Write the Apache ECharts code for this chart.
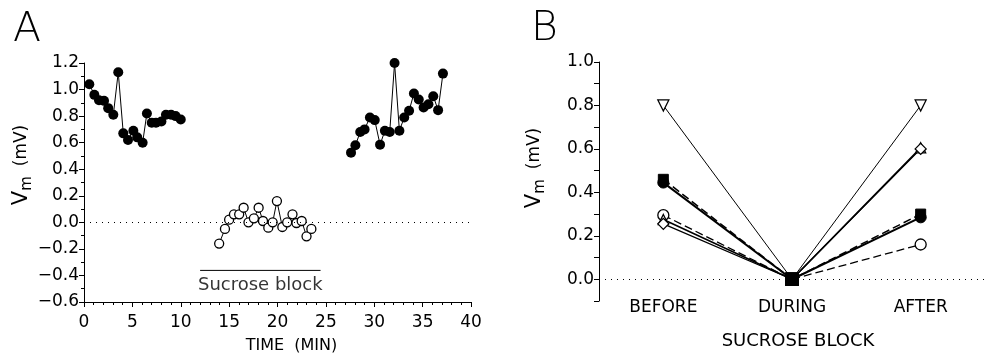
<!DOCTYPE html>
<html><head><meta charset="utf-8">
<script src="https://cdn.jsdelivr.net/npm/echarts@6/dist/echarts.min.js"></script>
<style>html,body{margin:0;padding:0;background:#fff}#c{width:985px;height:353px}</style>
</head><body><div id="c"></div>
<script>
// Panel A data
const preTime = [0.55,1.07,1.55,2.07,2.5,3.03,3.54,4.06,4.55,5.1,5.5,6.06,6.5,7.0,7.44,8.0,8.47,9.0,9.47,10.0];
const preVm   = [1.04,0.96,0.92,0.915,0.86,0.81,1.13,0.67,0.62,0.69,0.64,0.60,0.82,0.75,0.75,0.76,0.81,0.81,0.80,0.775];
const blockTime = [13.97,14.57,15.0,15.5,16.04,16.5,17.0,17.56,18.05,18.5,19.05,19.5,19.94,20.5,21.0,21.55,21.96,22.5,23.0,23.5];
const blockVm   = [-0.16,-0.05,0.02,0.06,0.06,0.11,0.0,0.03,0.11,0.01,-0.04,0.0,0.16,-0.035,0.0,0.06,-0.005,0.01,-0.105,-0.05];
const postTime = [27.6,28.05,28.55,29.0,29.55,30.05,30.6,31.1,31.6,32.1,32.6,33.1,33.6,34.1,34.6,35.1,35.6,36.1,36.6,37.1];
const postVm   = [0.525,0.58,0.68,0.70,0.79,0.77,0.585,0.69,0.68,1.20,0.69,0.79,0.84,0.97,0.925,0.865,0.89,0.95,0.845,1.12];
const sucroseBar = [12.0, 24.45];
const sucroseBarVm = -0.362;
const sucroseLabel = 'Sucrose block';
// Panel B data
const phases = ['BEFORE','DURING','AFTER'];
const cellTriDown = [0.80, 0.0, 0.80];
const cellSquare  = [0.46, 0.0, 0.30];
const cellFilled  = [0.445, 0.0, 0.285];
const cellOpen    = [0.295, 0.0, 0.16];
const cellTriUp   = [0.275, 0.0, 0.605];
const cellDiamond = [0.255, 0.0, 0.60];

const FF = 'DejaVu Sans';
const chart = echarts.init(document.getElementById('c'), null, {renderer:'canvas'});
const zip = (a,b) => a.map((x,i)=>[x,b[i]]);
const duringItem = v => ({value:v, symbol:'rect', symbolSize:12, symbolRotate:0, itemStyle:{color:'#000', borderColor:'#000'}});
function bSeries(vals, symbol, opts){
  return Object.assign({
    type:'line', xAxisIndex:1, yAxisIndex:1, symbol:symbol, symbolSize:10,
    data: vals.map((v,i)=> i===1 ? duringItem(v) : v),
    lineStyle:{color:'#000', width:1},
    itemStyle:{color:'#fff', borderColor:'#000', borderWidth:1.3},
    z: 3, animation:false
  }, opts||{});
}
const dotted0 = {silent:true, symbol:'none', label:{show:false},
  lineStyle:{color:'#000', type:[1,5], width:1}, data:[{yAxis:0}]};
const option = {
  backgroundColor:'#fff',
  animation:false,
  grid:[
    {left:84, right:514, top:63, bottom:51, outerBoundsMode:'none', containLabel:false},
    {left:599, right:0, top:62, bottom:52, outerBoundsMode:'none', containLabel:false}
  ],
  xAxis:[
    {type:'value', gridIndex:0, min:0, max:40, interval:5,
      axisLine:{show:true, onZero:false, lineStyle:{color:'#000', width:1}},
      axisTick:{show:true, length:5, lineStyle:{color:'#000'}},
      minorTick:{show:true, splitNumber:5, length:3, lineStyle:{color:'#000'}},
      splitLine:{show:false},
      axisLabel:{color:'#000', fontFamily:FF, fontSize:17, margin:12},
      name:'TIME  (MIN)', nameLocation:'middle', nameGap:36,
      nameTextStyle:{color:'#000', fontFamily:FF, fontSize:16, padding:[0,0,0,28]}},
    {type:'category', gridIndex:1, data:phases, boundaryGap:true,
      axisLine:{show:false}, axisTick:{show:false}, splitLine:{show:false},
      axisLabel:{color:'#000', fontFamily:FF, fontSize:17, margin:-2},
      name:'SUCROSE BLOCK', nameLocation:'middle', nameGap:31,
      nameTextStyle:{color:'#000', fontFamily:FF, fontSize:18, padding:[0,0,0,12]}}
  ],
  yAxis:[
    {type:'value', gridIndex:0, min:-0.6, max:1.2, interval:0.2,
      axisLine:{show:true, onZero:false, lineStyle:{color:'#000', width:1}},
      axisTick:{show:true, length:5, lineStyle:{color:'#000'}},
      minorTick:{show:true, splitNumber:2, length:3, lineStyle:{color:'#000'}},
      splitLine:{show:false},
      axisLabel:{color:'#000', fontFamily:FF, fontSize:17, margin:5, formatter: v => (v<0?'\u2212':'')+Math.abs(v).toFixed(1)}},
    {type:'value', gridIndex:1, min:-0.1, max:1.0, interval:0.1,
      axisLine:{show:true, onZero:false, lineStyle:{color:'#000', width:1}},
      axisTick:{show:true, length:5, lineStyle:{color:'#000'}},
      splitLine:{show:false},
      axisLabel:{color:'#000', fontFamily:FF, fontSize:17, margin:5,
        formatter: v => (Math.round(v*10)%2===0 ? Math.abs(v).toFixed(1) : '')}}
  ],
  graphic:[
    {type:'text', left:13, top:10, style:{text:'A', fontFamily:FF, fontSize:41, fontWeight:200, fill:'#000'}},
    {type:'text', left:531, top:9, style:{text:'B', fontFamily:FF, fontSize:41, fontWeight:200, fill:'#000'}},
    {type:'text', x:22, y:165, rotation:Math.PI/2,
      style:{text:'{v|V}{m|m}   {p|(mV)}', align:'center', verticalAlign:'middle', fill:'#000',
        rich:{v:{fontFamily:FF, fontSize:21, verticalAlign:'middle'}, m:{fontFamily:FF, fontSize:15, verticalAlign:'bottom', padding:[10,0,0,0]}, p:{fontFamily:FF, fontSize:17}}}},
    {type:'text', x:535, y:168, rotation:Math.PI/2,
      style:{text:'{v|V}{m|m}   {p|(mV)}', align:'center', verticalAlign:'middle', fill:'#000',
        rich:{v:{fontFamily:FF, fontSize:21, verticalAlign:'middle'}, m:{fontFamily:FF, fontSize:15, verticalAlign:'bottom', padding:[10,0,0,0]}, p:{fontFamily:FF, fontSize:17}}}}
  ],
  series:[
    {type:'line', xAxisIndex:0, yAxisIndex:0, data:zip(preTime, preVm), symbol:'circle', symbolSize:10,
      lineStyle:{color:'#000', width:1}, itemStyle:{color:'#000'}, z:3, markLine:dotted0},
    {type:'line', xAxisIndex:0, yAxisIndex:0, data:zip(blockTime, blockVm), symbol:'circle', symbolSize:9,
      lineStyle:{color:'#000', width:1}, itemStyle:{color:'#fff', borderColor:'#000', borderWidth:1.3}, z:3},
    {type:'line', xAxisIndex:0, yAxisIndex:0, data:zip(postTime, postVm), symbol:'circle', symbolSize:10,
      lineStyle:{color:'#000', width:1}, itemStyle:{color:'#000'}, z:3},
    {type:'line', xAxisIndex:0, yAxisIndex:0, data:sucroseBar.map(t=>[t, sucroseBarVm]), symbol:'none',
      lineStyle:{color:'#000', width:1}},
    {type:'scatter', xAxisIndex:0, yAxisIndex:0, data:[[(sucroseBar[0]+sucroseBar[1])/2, sucroseBarVm]],
      symbol:'circle', symbolSize:2, itemStyle:{color:'rgba(0,0,0,0)'},
      label:{show:true, position:'bottom', distance:5, formatter:sucroseLabel, color:'#000', fontFamily:FF, fontSize:18}},
    bSeries(cellTriDown, 'triangle', {symbolRotate:180, symbolSize:11, markLine:dotted0}),
    bSeries(cellSquare, 'rect', {symbolSize:10, itemStyle:{color:'#000', borderColor:'#000'}, lineStyle:{color:'#000', width:1.5, type:[8,4]}}),
    bSeries(cellFilled, 'circle', {symbolSize:11, itemStyle:{color:'#000', borderColor:'#000'}, lineStyle:{color:'#000', width:2}}),
    bSeries(cellOpen, 'circle', {symbolSize:11, lineStyle:{color:'#000', width:1.3, type:[8,4]}}),
    bSeries(cellTriUp, 'triangle', {symbolSize:10, lineStyle:{color:'#000', width:1.6}}),
    bSeries(cellDiamond, 'diamond', {symbolSize:11, lineStyle:{color:'#000', width:1.3}})
  ]
};
chart.setOption(option);
</script>
</body></html>
